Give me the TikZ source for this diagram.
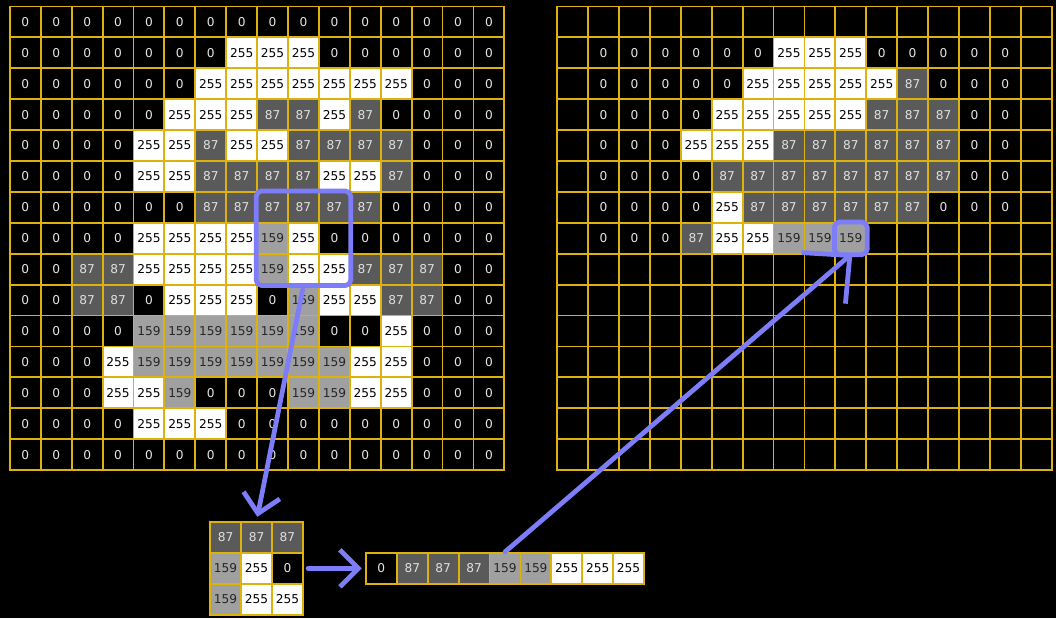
\documentclass[tikz,border=0pt]{standalone}
\usepackage{fontspec}
\setmainfont{DejaVu Sans}
\usetikzlibrary{arrows.meta}

\definecolor{gridgold}{RGB}{222,178,12}
\definecolor{hlblue}{RGB}{125,125,250}
\definecolor{darkpix}{RGB}{90,90,90}
\definecolor{midpix}{RGB}{160,160,160}

% prints a pixel value, nothing for a blank cell (n)
\newcommand\pixval[1]{\if n#1\else#1\fi}

\tikzset{
  cell/.style={draw=gridgold, line width=0.85pt, minimum size=0.5cm, inner sep=0pt,
    font=\fontsize{5.6}{6}\selectfont},
  v0/.style={fill=black, text=white!90!black},
  v87/.style={fill=darkpix, text=white!88!black},
  v159/.style={fill=midpix, text=black!85},
  v255/.style={fill=white, text=black},
  vn/.style={fill=black},
  hl/.style={draw=hlblue, line width=2.2pt, rounded corners=2.5pt},
  flow/.style={draw=hlblue, line width=2.2pt, line cap=round,
    -{Straight Barb[length=8.5pt,width=17pt,line width=2.2pt]}},
  bigflow/.style={flow, -{Straight Barb[length=16pt,width=31pt,line width=2.2pt]}}
}

\begin{document}
\begin{tikzpicture}[x=0.5cm, y=-0.5cm]
    % Background
    \fill[black] (0,0) rectangle (34.17,20);

    % Input image
    \foreach \row [count=\r from 0] in {
      {0,0,0,0,0,0,0,0,0,0,0,0,0,0,0,0},
      {0,0,0,0,0,0,0,255,255,255,0,0,0,0,0,0},
      {0,0,0,0,0,0,255,255,255,255,255,255,255,0,0,0},
      {0,0,0,0,0,255,255,255,87,87,255,87,0,0,0,0},
      {0,0,0,0,255,255,87,255,255,87,87,87,87,0,0,0},
      {0,0,0,0,255,255,87,87,87,87,255,255,87,0,0,0},
      {0,0,0,0,0,0,87,87,87,87,87,87,0,0,0,0},
      {0,0,0,0,255,255,255,255,159,255,0,0,0,0,0,0},
      {0,0,87,87,255,255,255,255,159,255,255,87,87,87,0,0},
      {0,0,87,87,0,255,255,255,0,159,255,255,87,87,0,0},
      {0,0,0,0,159,159,159,159,159,159,0,0,255,0,0,0},
      {0,0,0,255,159,159,159,159,159,159,159,255,255,0,0,0},
      {0,0,0,255,255,159,0,0,0,159,159,255,255,0,0,0},
      {0,0,0,0,255,255,255,0,0,0,0,0,0,0,0,0},
      {0,0,0,0,0,0,0,0,0,0,0,0,0,0,0,0}} {
      \foreach \val [count=\c from 0] in \row
        \node[cell, v\val] (L-\r-\c) at (0.82+\c, 0.71+\r) {\pixval{\val}};
    }

    % Output image
    \foreach \row [count=\r from 0] in {
      {n,n,n,n,n,n,n,n,n,n,n,n,n,n,n,n},
      {n,0,0,0,0,0,0,255,255,255,0,0,0,0,0,n},
      {n,0,0,0,0,0,255,255,255,255,255,87,0,0,0,n},
      {n,0,0,0,0,255,255,255,255,255,87,87,87,0,0,n},
      {n,0,0,0,255,255,255,87,87,87,87,87,87,0,0,n},
      {n,0,0,0,0,87,87,87,87,87,87,87,87,0,0,n},
      {n,0,0,0,0,255,87,87,87,87,87,87,0,0,0,n},
      {n,0,0,0,87,255,255,159,159,159,n,n,n,n,n,n},
      {n,n,n,n,n,n,n,n,n,n,n,n,n,n,n,n},
      {n,n,n,n,n,n,n,n,n,n,n,n,n,n,n,n},
      {n,n,n,n,n,n,n,n,n,n,n,n,n,n,n,n},
      {n,n,n,n,n,n,n,n,n,n,n,n,n,n,n,n},
      {n,n,n,n,n,n,n,n,n,n,n,n,n,n,n,n},
      {n,n,n,n,n,n,n,n,n,n,n,n,n,n,n,n},
      {n,n,n,n,n,n,n,n,n,n,n,n,n,n,n,n}} {
      \foreach \val [count=\c from 0] in \row
        \node[cell, v\val] (R-\r-\c) at (18.53+\c, 0.71+\r) {\pixval{\val}};
    }

    % Window
    \foreach \row [count=\r from 0] in {{87,87,87},{159,255,0},{159,255,255}} {
      \foreach \val [count=\c from 0] in \row
        \node[cell, v\val] (W-\r-\c) at (7.30+\c, 17.39+\r) {\val};
    }

    % Sorted values
    \foreach \val [count=\c from 0] in {0,87,87,87,159,159,255,255,255}
      \node[cell, v\val] (S-\c) at (12.34+\c, 18.39) {\val};

    % Highlights
    \draw[hl] (L-6-8.north west) rectangle (L-8-10.south east);
    \draw[hl] (R-7-9.north west) rectangle (R-7-9.south east);

    % Arrows
    \draw[flow, shorten <=2pt, shorten >=2pt] (L-8-9.south) -- (W-0-1.north);
    \draw[flow, shorten <=2pt, shorten >=1.5pt] (W-1-2.east) -- (S-0.west);
    \draw[bigflow, shorten >=-1pt] (S-4.north) -- (R-7-9.south);
\end{tikzpicture}
\end{document}
